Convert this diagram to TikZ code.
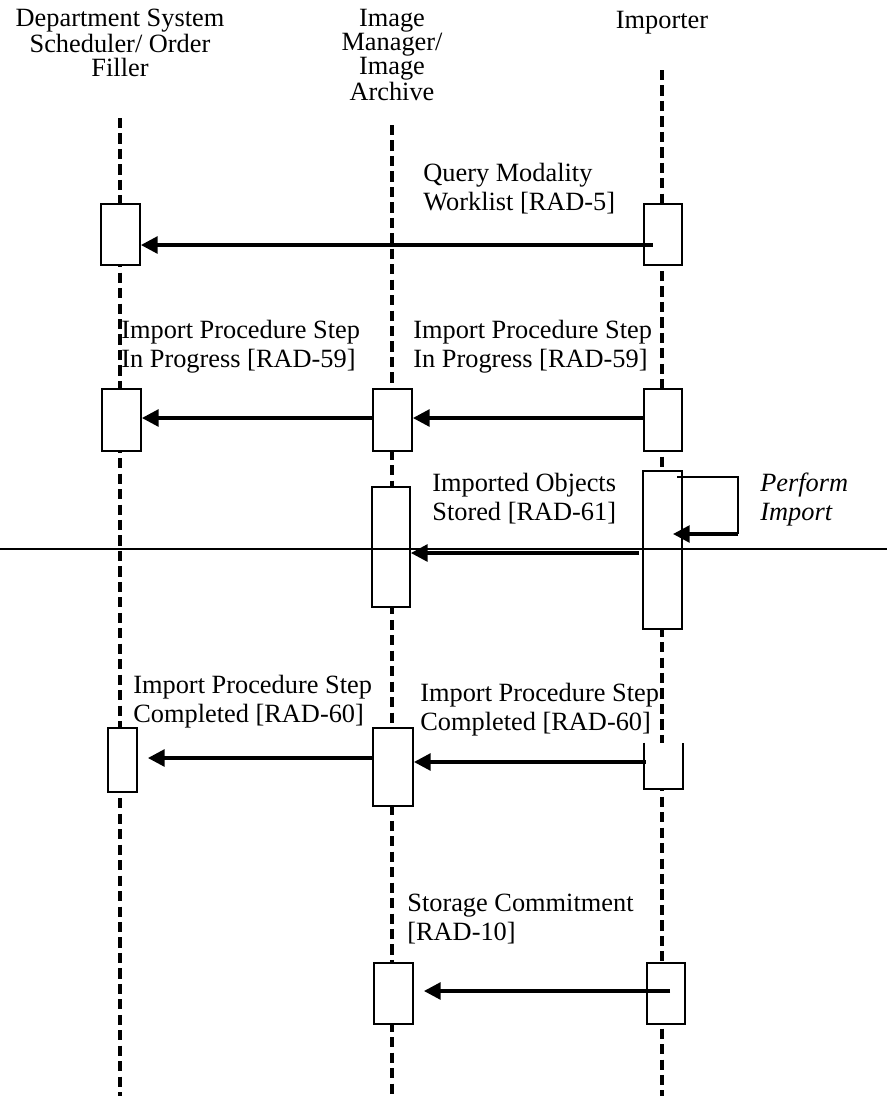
\documentclass[tikz,border=0pt]{standalone}
\usepackage{fontspec}
\setmainfont{Liberation Serif}
\usetikzlibrary{calc, arrows.meta, positioning}

\begin{document}
\begin{tikzpicture}[x=0.02cm, y=-0.02cm, >={Triangle[length=9.5pt, width=9.5pt]}, font=\fontsize{15}{16.2}\selectfont]
		\tikzstyle{bar} = [draw=black, line width=1.1pt, fill=white, inner sep=0pt, minimum width=22.1pt]
		\tikzstyle{openbar} = [draw=none, fill=white, inner sep=0pt, minimum width=22.1pt]
		\tikzstyle{life} = [line width=1.8pt, dash pattern=on 5.8pt off 3pt]
		\tikzstyle{msg} = [->, line width=2pt]
		\tikzstyle{lbl} = [anchor=base west, align=left, inner sep=0pt]
		\tikzstyle{head} = [anchor=base, align=center, inner sep=0pt, font=\fontsize{15}{13.6}\selectfont]
		
		\useasboundingbox (0,0) rectangle (887,1096);
		
		\node[head] 	at (120, 76) 	(dss) 	{Department System\\Scheduler/ Order\\Filler};
		\node[head] 	at (392, 100) 	(im) 	{Image\\Manager/\\Image\\Archive};
		\node[head] 	at (662, 28) 	(imp) 	{Importer};
		
		\coordinate (dssT) at (120, 118);	\coordinate (dssB) at (120, 1096);
		\coordinate (imT) at (392, 125);	\coordinate (imB) at (392, 1096);
		\coordinate (impT) at (662, 70);	\coordinate (impB) at (662, 1096);
		\draw[life] (dssT) -- (dssB);
		\draw[life] (imT) -- (imB);
		\draw[life] (impT) -- (impB);
		
		\node[bar, minimum height=34.6pt] 	at (120.5, 234.5) 	(dss1) 	{};
		\node[bar, minimum height=34.6pt] 	at (663, 234.5) 	(imp1) 	{};
		\node[bar, minimum height=35.1pt] 	at (121.5, 420) 	(dss2) 	{};
		\node[bar, minimum height=35.1pt] 	at (392.5, 420) 	(im2) 	{};
		\node[bar, minimum height=35.1pt] 	at (663, 420) 		(imp2) 	{};
		\node[bar, minimum height=68pt, minimum width=21.5pt] 	at (391, 547) 	(im3) 	{};
		\node[bar, minimum height=89.6pt] 	at (662.5, 550) 	(imp3) 	{};
		\node[bar, minimum height=36.3pt, minimum width=16.4pt] 	at (122.5, 760) 	(dss4) 	{};
		\node[bar, minimum height=44.2pt, minimum width=22.7pt] 	at (393, 767) 	(im4) 	{};
		\node[openbar, minimum height=26.1pt] 	at (663.5, 766) 	(imp4) 	{};
		\draw[line width=1.1pt] (imp4.north west) -- (imp4.south west) -- (imp4.south east) -- (imp4.north east);
		\node[bar, minimum height=34.6pt] 	at (393.5, 993.5) 	(im5) 	{};
		\node[bar, minimum height=34.6pt, minimum width=21.5pt] 	at (666, 993.5) 	(imp5) 	{};
		
		\coordinate (m1) at (0, 245);
		\coordinate (m2) at (0, 418);
		\coordinate (m3) at (0, 553);
		\coordinate (m4a) at (0, 758);
		\coordinate (m4b) at (0, 762);
		\coordinate (m5) at (0, 991);
		
		\path[msg]
		([xshift=5.7pt]imp1.west |- m1)	edge	(dss1.east |- m1)
		(im2.west |- m2)	edge	(dss2.east |- m2)
		(imp2.west |- m2)	edge	(im2.east |- m2)
		([xshift=-1.7pt]imp3.west |- m3)	edge	(im3.east |- m3)
		(im4.west |- m4a)	edge	([xshift=5.7pt]dss4.east |- m4a)
		([xshift=1.1pt]imp4.west |- m4b)	edge	(im4.east |- m4b)
		([xshift=-9pt]imp5.east |- m5)	edge	([xshift=5.7pt]im5.east |- m5);
		
		\coordinate (loopA) at (677, 477);
		\coordinate (loopB) at (738, 477);
		\coordinate (loopC) at (738, 534);
		\coordinate (loopD) at (673, 534);
		\draw[line width=1.1pt] (loopA) -- (loopB) -- (loopC);
		\draw[msg] (loopC) -- (loopD);
		
		\draw[line width=1.1pt] (0, 549) -- (887, 549);
		
		\node[lbl] 	at (423, 210) 	(q1) 	{Query Modality\\Worklist [RAD-5]};
		\node[lbl] 	at (121, 367) 	(q2a) 	{Import Procedure Step\\In Progress [RAD-59]};
		\node[lbl] 	at (413, 367) 	(q2b) 	{Import Procedure Step\\In Progress [RAD-59]};
		\node[lbl] 	at (432, 520) 	(q3) 	{Imported Objects\\Stored [RAD-61]};
		\node[lbl, font=\fontsize{15}{16.2}\selectfont\itshape] 	at (760, 520) 	(q3s) 	{Perform\\Import};
		\node[lbl] 	at (133, 722) 	(q4a) 	{Import Procedure Step\\Completed [RAD-60]};
		\node[lbl] 	at (420, 730) 	(q4b) 	{Import Procedure Step\\Completed [RAD-60]};
		\node[lbl] 	at (407, 940) 	(q5) 	{Storage Commitment\\{[RAD-10]}};
\end{tikzpicture}
\end{document}
